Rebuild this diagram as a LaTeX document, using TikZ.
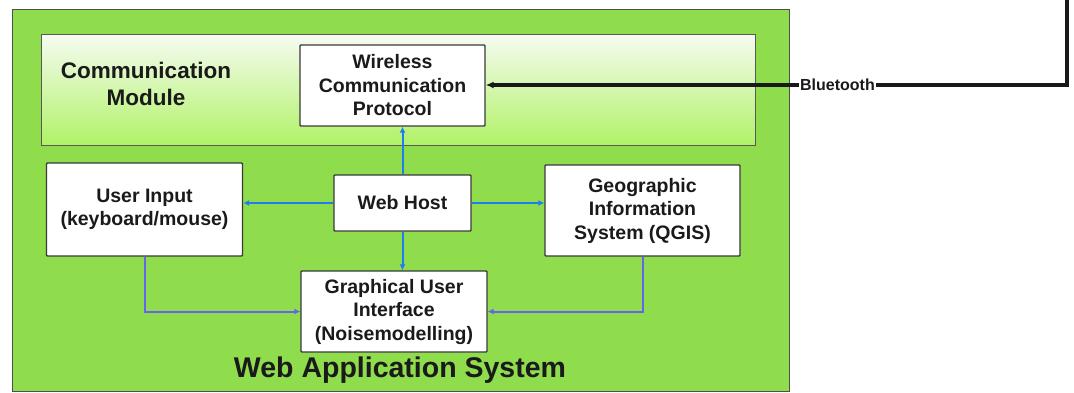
\documentclass[tikz,border=0pt]{standalone}
\usepackage{fontspec}
\setmainfont{Liberation Sans}
\usetikzlibrary{arrows.meta,calc}

\definecolor{outergreen}{HTML}{8FDC4C}
\definecolor{gradtop}{HTML}{F6FBF1}
\definecolor{gradbot}{HTML}{B0F266}
\definecolor{bluearrow}{HTML}{1F7DF2}
\definecolor{purplearrow}{HTML}{6464EE}
\definecolor{edgegray}{HTML}{3A3A3A}
\definecolor{textdark}{HTML}{1A1A1A}

\begin{document}
\begin{tikzpicture}[x=1pt,y=-1pt,
  box/.style={draw=edgegray, line width=1.4pt, fill=white, align=center,
    text=textdark, font=\bfseries\fontsize{19.5}{23.5}\selectfont,
    inner sep=0pt, rounded corners=0.8pt},
  bluelink/.style={draw=bluearrow, line width=2pt, -{Latex[length=6pt,width=6pt]}},
  purplelink/.style={draw=purplearrow, line width=2pt, -{Latex[length=6pt,width=6pt]}},
  blacklink/.style={draw=black!90, line width=3.2pt},
]
\useasboundingbox (0,0) rectangle (1074,392);

% outer system box
\node[draw=edgegray!90, line width=1.2pt, fill=outergreen, minimum width=777pt,
  minimum height=382pt, anchor=north west, inner sep=0pt] (outer) at (12,9) {};
% communication module box
\node[draw=edgegray!85, line width=1.1pt, top color=gradtop, bottom color=gradbot,
  minimum width=714pt, minimum height=111pt, anchor=north west, inner sep=0pt] (comm) at (41,34) {};

\node[align=center, text=textdark, font=\bfseries\fontsize{22.5}{27}\selectfont] (commlabel) at (146,84) {Communication\\Module};

\node[box, minimum width=185pt, minimum height=81pt] (wireless) at (392.5,85.5) {Wireless\\Communication\\Protocol};
\node[box, minimum width=137pt, minimum height=56pt] (webhost) at (402.5,203) {Web Host};
\node[box, minimum width=196pt, minimum height=93pt] (userinput) at (144.5,209.5) {User Input\\(keyboard/mouse)};
\node[box, minimum width=195pt, minimum height=91pt] (gis) at (642.5,210.5) {Geographic\\Information\\System (QGIS)};
\node[box, minimum width=186pt, minimum height=81pt] (gui) at (394,311.5) {Graphical User\\Interface\\(Noisemodelling)};

\node[text=textdark, font=\bfseries\fontsize{28.5}{32}\selectfont] (waslabel) at (400,370) {Web Application System};

% Bluetooth link
\coordinate (btop) at (1067,-3);
\node[fill=white, inner sep=1pt, text=textdark, font=\bfseries\fontsize{16}{19}\selectfont] (bt) at (837.5,85) {Bluetooth};
\draw[blacklink] (btop) -- (btop |- bt.east) -- (bt.east);
\draw[blacklink, -{Latex[length=8pt,width=7pt]}] (bt.west) -- (bt.west -| wireless.east);

% Web host links
\draw[bluelink] (webhost.north) -- (webhost.north |- wireless.south);
\draw[bluelink] (webhost.west) -- (userinput.east |- webhost.west);
\draw[bluelink] (webhost.east) -- (gis.west |- webhost.east);
\draw[bluelink] (webhost.south) -- (webhost.south |- gui.north);

% inputs to GUI
\draw[purplelink] (userinput.south) |- (gui.west);
\draw[purplelink] (gis.south) |- (gui.east);
\end{tikzpicture}
\end{document}
